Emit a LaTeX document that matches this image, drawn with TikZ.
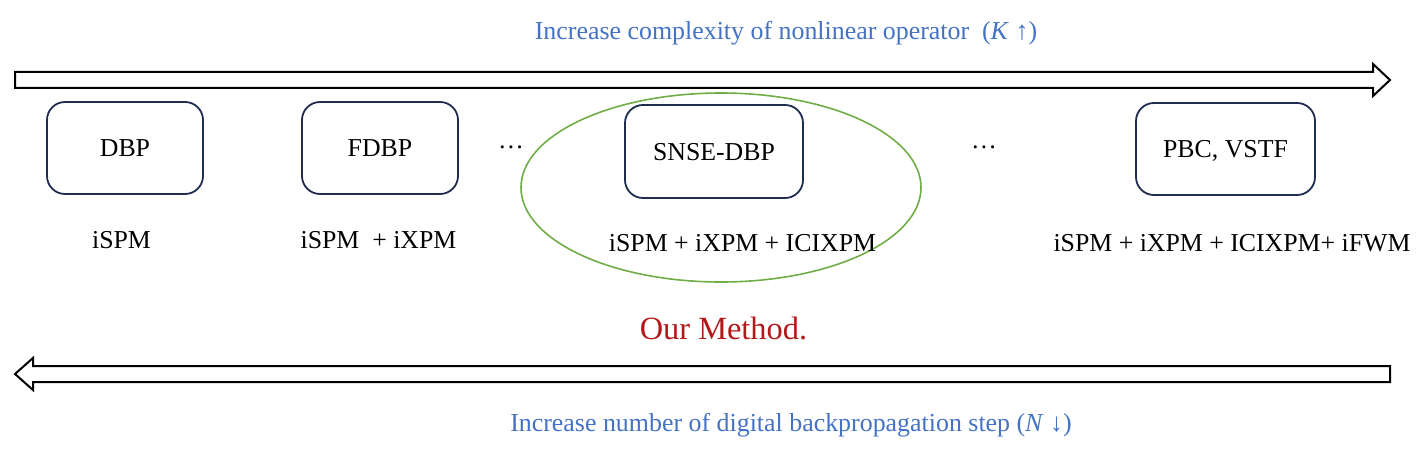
\documentclass[tikz,border=0pt]{standalone}
\usepackage{fontspec}
\setmainfont{Liberation Serif}
\usetikzlibrary{shapes.geometric}
\definecolor{bluetxt}{RGB}{68,114,196}
\definecolor{navy}{RGB}{31,45,80}
\definecolor{grn}{RGB}{112,173,71}
\definecolor{redtxt}{RGB}{180,25,25}
\tikzset{
  bigarrow/.style={draw=black,line width=2pt,fill=white,line join=miter},
  methodbox/.style={draw=navy,line width=1.8pt,rounded corners=18pt,minimum width=156pt,minimum height=92pt,inner sep=0pt,text height=17pt,text depth=0pt},
  lbl/.style={font=\fontsize{25.8}{30}\selectfont,inner sep=0pt},
  captxt/.style={font=\fontsize{25.9}{30}\selectfont,text=bluetxt,inner sep=0pt},
}
\begin{document}
\begin{tikzpicture}[x=1pt,y=-1pt]
\useasboundingbox (0,0) rectangle (1428,460);
% top arrow
\draw[bigarrow] (15,72) -- (1373,72) -- (1373,64) -- (1390,80) -- (1373,96) -- (1373,88) -- (15,88) -- cycle;
\node[captxt] (toptxt) at (786,33) {Increase complexity of nonlinear operator \ (\textit{K} ↑)};
% bottom arrow
\draw[bigarrow] (1390,366) -- (33,366) -- (33,358) -- (15,374) -- (33,390) -- (33,382) -- (1390,382) -- cycle;
\node[captxt] (bottxt) at (791,425) {Increase number of digital backpropagation step (\textit{N} ↓)};
% ellipse
\node[draw=grn,line width=1.6pt,ellipse,minimum width=400pt,minimum height=189pt,inner sep=0pt] (ell) at (721,187.5) {};
% boxes
\node[methodbox,lbl] (dbp) at (125,148) {DBP};
\node[methodbox,lbl] (fdbp) at (380,148) {FDBP};
\node[methodbox,lbl,minimum width=178pt,minimum height=93pt] (snse) at (714,151.5) {SNSE-DBP};
\node[methodbox,lbl,minimum width=179pt] (pbc) at (1225.5,149) {PBC, VSTF};
% dots
\node[lbl] (dots1) at (511,147) {…};
\node[lbl] (dots2) at (984,147) {…};
% labels
\node[lbl] (l1) at (121.5,240) {iSPM};
\node[lbl] (l2) at (378.5,240) {iSPM \ + iXPM};
\node[lbl] (l3) at (742.5,243) {iSPM + iXPM + ICIXPM};
\node[lbl] (l4) at (1232,243) {iSPM + iXPM + ICIXPM+ iFWM};
% our method
\node[inner sep=0pt,text=redtxt,font=\fontsize{32.4}{38}\selectfont] (our) at (723.5,328.5) {Our Method.};
\end{tikzpicture}
\end{document}
